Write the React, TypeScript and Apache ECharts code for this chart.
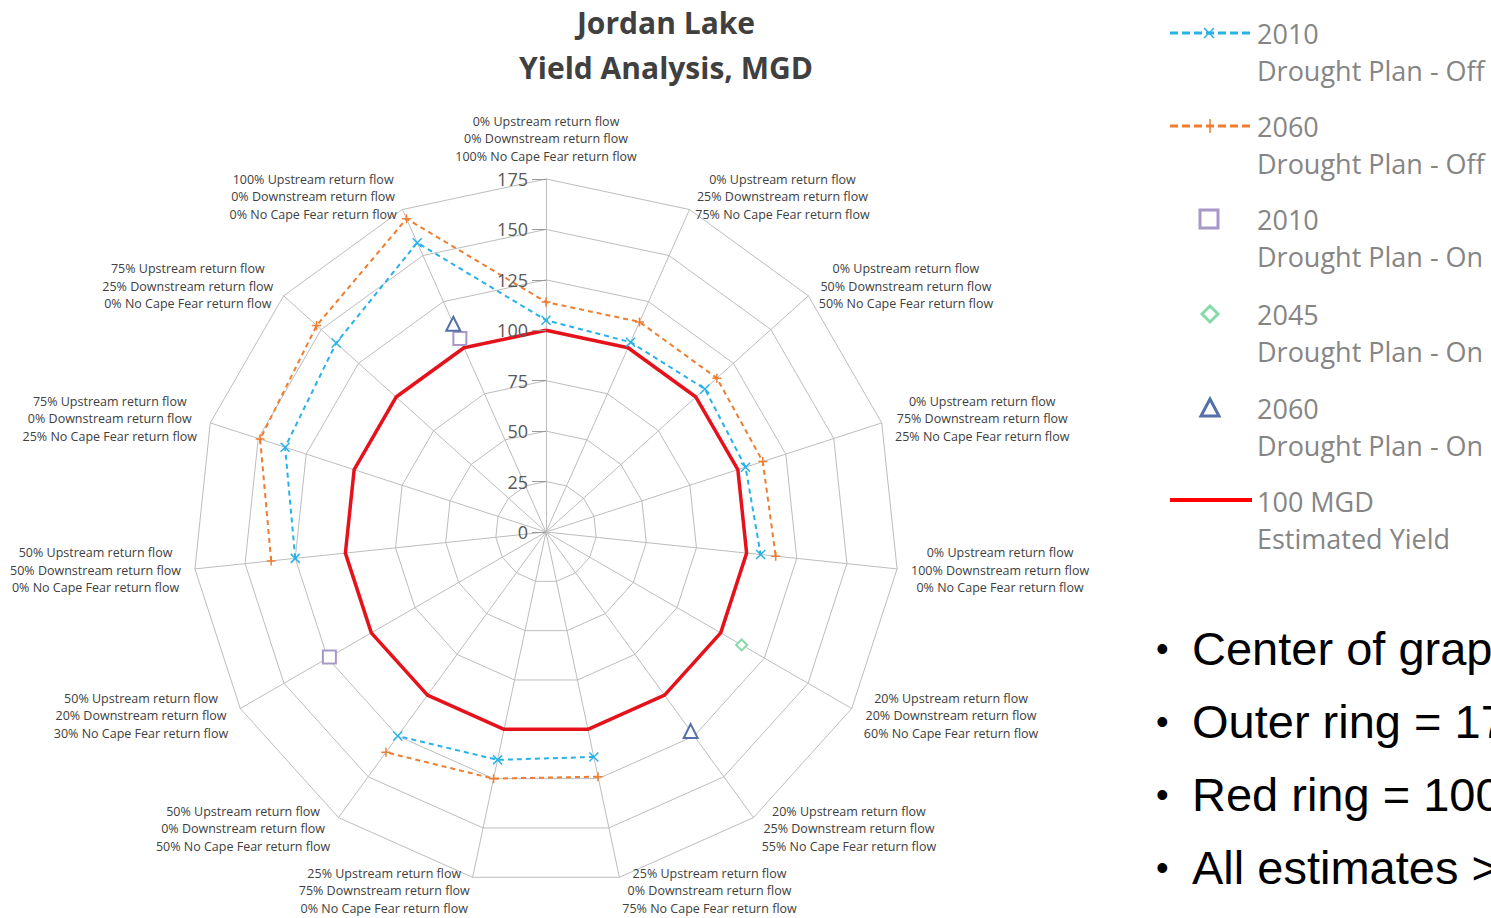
import React, { useEffect, useRef } from "react";
import * as echarts from "echarts";

// Axis scenarios, clockwise from the top
const upstream = ["0%", "0%", "0%", "0%", "0%", "20%", "20%", "25%", "25%", "50%", "50%", "50%", "75%", "75%", "100%"];
const downstream = ["0%", "25%", "50%", "75%", "100%", "20%", "25%", "0%", "75%", "0%", "20%", "50%", "0%", "25%", "0%"];
const noCapeFear = ["100%", "75%", "50%", "25%", "0%", "60%", "55%", "75%", "0%", "50%", "30%", "0%", "25%", "0%", "0%"];

// Yield values (MGD), same order
const off2010 = [105, 103, 106, 104, 107, null, null, 114, 115.5, 125, null, 125, 136, 140, 157];
const off2060 = [114, 114, 114, 113, 114.5, null, null, 124, 125, 135, null, 137, 149, 153, 170];
const on2010 = [null, null, null, null, null, null, null, null, null, null, 124, null, null, null, 105];
const on2045 = [null, null, null, null, null, 112, null, null, null, null, null, null, null, null, null];
const on2060 = [null, null, null, null, null, null, 122, null, null, null, null, null, null, null, 113];
const yield100 = [100, 100, 100, 100, 100, 100, 100, 100, 100, 100, 100, 100, 100, 100, 100];

const titleLines = ["Jordan Lake", "Yield Analysis, MGD"];
const bullets = ["Center of graph = 0", "Outer ring = 175", "Red ring = 100", "All estimates > 100"];

const C_BLUE = "#27b2e8";
const C_ORANGE = "#ee7d30";
const C_PURPLE = "#a898c8";
const C_GREEN = "#86d9ab";
const C_NAVY = "#5470a8";
const C_RED = "#e5121b";
const FONT = "Open Sans";

const CX = 546;
const CY = 532;
const R = 353;

function ringPoints(vals: (number | null)[]) {
  const n = vals.length;
  let s = 0;
  for (let i = 0; i < n; i++) {
    if (vals[i] != null && vals[(i - 1 + n) % n] == null) {
      s = i;
      break;
    }
  }
  const pts: any[] = [];
  for (let k = 0; k < n; k++) {
    const i = (s + k) % n;
    pts.push([vals[i] == null ? "-" : vals[i], s + k]);
  }
  return pts;
}

function scatterPoints(vals: (number | null)[]) {
  const pts: any[] = [];
  vals.forEach((v, i) => {
    if (v != null) pts.push([v, i]);
  });
  return pts;
}

export default function App() {
  const ref = useRef<HTMLDivElement>(null);
  useEffect(() => {
    document.body.style.margin = "0";
    const chart = echarts.init(ref.current!, undefined, { renderer: "svg" });
    const n = upstream.length;
    const labels = upstream.map(
      (u, i) =>
        `${u} Upstream return flow\n${downstream[i]} Downstream return flow\n${noCapeFear[i]} No Cape Fear return flow`
    );
    const order = labels.map((_, k) => (n - k) % n);

    const legendX = 1257;
    const legendText = (y: number, a: string, b: string) => [
      { type: "text", x: legendX, y, style: { text: a, fill: "#858585", font: `27px "${FONT}"`, verticalAlign: "middle" } },
      { type: "text", x: legendX, y: y + 37, style: { text: b, fill: "#858585", font: `27px "${FONT}"`, verticalAlign: "middle" } },
    ];

    const graphic: any[] = [
      {
        type: "text",
        x: 666,
        y: 22,
        style: { text: titleLines[0], fill: "#404040", font: `bold 30px "${FONT}"`, align: "center", verticalAlign: "middle" },
      },
      {
        type: "text",
        x: 666,
        y: 67,
        style: { text: titleLines[1], fill: "#404040", font: `bold 30px "${FONT}"`, align: "center", verticalAlign: "middle" },
      },
      // legend row 1
      { type: "line", shape: { x1: 1170, y1: 33, x2: 1252, y2: 33 }, style: { stroke: C_BLUE, lineWidth: 3, lineDash: [8, 4] } },
      { type: "line", shape: { x1: 1204, y1: 28, x2: 1214, y2: 38 }, style: { stroke: C_BLUE, lineWidth: 1.5 } },
      { type: "line", shape: { x1: 1214, y1: 28, x2: 1204, y2: 38 }, style: { stroke: C_BLUE, lineWidth: 1.5 } },
      ...legendText(33, "2010", "Drought Plan - Off"),
      // legend row 2
      { type: "line", shape: { x1: 1170, y1: 126, x2: 1252, y2: 126 }, style: { stroke: C_ORANGE, lineWidth: 3, lineDash: [8, 4] } },
      { type: "line", shape: { x1: 1210, y1: 119, x2: 1210, y2: 133 }, style: { stroke: C_ORANGE, lineWidth: 1.5 } },
      ...legendText(126, "2060", "Drought Plan - Off"),
      // legend row 3
      { type: "rect", shape: { x: 1200, y: 210, width: 18, height: 18 }, style: { stroke: C_PURPLE, fill: "#fff", lineWidth: 3 } },
      ...legendText(219, "2010", "Drought Plan - On"),
      // legend row 4
      {
        type: "polygon",
        shape: { points: [[1210, 306], [1218, 314], [1210, 322], [1202, 314]] },
        style: { stroke: C_GREEN, fill: "#fff", lineWidth: 3 },
      },
      ...legendText(314, "2045", "Drought Plan - On"),
      // legend row 5
      {
        type: "polygon",
        shape: { points: [[1210, 399], [1219, 416], [1201, 416]] },
        style: { stroke: C_NAVY, fill: "#fff", lineWidth: 3 },
      },
      ...legendText(408, "2060", "Drought Plan - On"),
      // legend row 6
      { type: "line", shape: { x1: 1170, y1: 500, x2: 1252, y2: 500 }, style: { stroke: "#ff0000", lineWidth: 4 } },
      ...legendText(501, "100 MGD", "Estimated Yield"),
    ];
    bullets.forEach((b, i) => {
      const y = 648 + i * 73;
      graphic.push({
        type: "text",
        x: 1156,
        y,
        style: { text: "•", fill: "#000", font: `36px "Liberation Sans"`, verticalAlign: "middle" },
      });
      graphic.push({
        type: "text",
        x: 1192,
        y,
        style: { text: b, fill: "#000", font: `47px "Liberation Sans"`, verticalAlign: "middle" },
      });
    });

    const lineSeries = (name: string, vals: (number | null)[], color: string, symbol: string) => ({
      name,
      type: "line",
      coordinateSystem: "polar",
      data: ringPoints(vals),
      connectNulls: false,
      symbol,
      symbolSize: 9,
      showSymbol: true,
      lineStyle: { color, width: 2, type: [5, 4] },
      itemStyle: { color: "none", borderColor: color, borderWidth: 1.5 },
      z: 3,
    });
    const scatterSeries = (name: string, vals: (number | null)[], color: string, symbol: string, size: number) => ({
      name,
      type: "scatter",
      coordinateSystem: "polar",
      data: scatterPoints(vals),
      symbol,
      symbolSize: size,
      itemStyle: { color: "#fff", borderColor: color, borderWidth: 2, opacity: 1 },
      z: 4,
    });

    chart.setOption({
      animation: false,
      backgroundColor: "#fff",
      textStyle: { fontFamily: FONT },
      graphic,
      radar: {
        center: [CX, CY],
        radius: R,
        startAngle: 90,
        splitNumber: 7,
        shape: "polygon",
        nameGap: 14,
        indicator: order.map((i) => ({ name: labels[i], min: 0, max: 175 })),
        axisName: {
          formatter: (name: string) =>
            name
              .split("\n")
              .map((l) => `{a|${l}}`)
              .join("\n"),
          rich: { a: { align: "center", fontSize: 12.5, lineHeight: 17.5, color: "#404040", fontFamily: FONT } },
        },
        axisLine: { lineStyle: { color: "#bdbdbd", width: 1 } },
        splitLine: { lineStyle: { color: "#bdbdbd", width: 1 } },
        splitArea: { show: false },
        axisTick: { show: false },
        axisLabel: { show: false },
      },
      polar: { center: [CX, CY], radius: R },
      angleAxis: { type: "value", min: 0, max: 15, startAngle: 90, clockwise: true, show: false },
      radiusAxis: {
        type: "value",
        min: 0,
        max: 175,
        interval: 25,
        axisLine: { show: false },
        splitLine: { show: false },
        axisTick: { show: true, length: 14, lineStyle: { color: "#9a9a9a" } },
        axisLabel: { color: "#595959", fontSize: 18, fontFamily: FONT, margin: 18 },
        z: 5,
      },
      series: [
        {
          name: "100 MGD Estimated Yield",
          type: "radar",
          symbol: "none",
          lineStyle: { color: C_RED, width: 3.5 },
          data: [{ value: order.map((i) => yield100[i]) }],
          z: 2,
        },
        lineSeries("2010 Drought Plan - Off", off2010, C_BLUE, "path://M0,0L10,10M10,0L0,10"),
        lineSeries("2060 Drought Plan - Off", off2060, C_ORANGE, "path://M5,0L5,10M0,5L10,5"),
        scatterSeries("2010 Drought Plan - On", on2010, C_PURPLE, "rect", 13),
        scatterSeries("2045 Drought Plan - On", on2045, C_GREEN, "diamond", 11),
        scatterSeries("2060 Drought Plan - On", on2060, C_NAVY, "triangle", 14),
      ],
    });
    return () => chart.dispose();
  }, []);
  return <div ref={ref} style={{ width: 1491, height: 918 }} />;
}
